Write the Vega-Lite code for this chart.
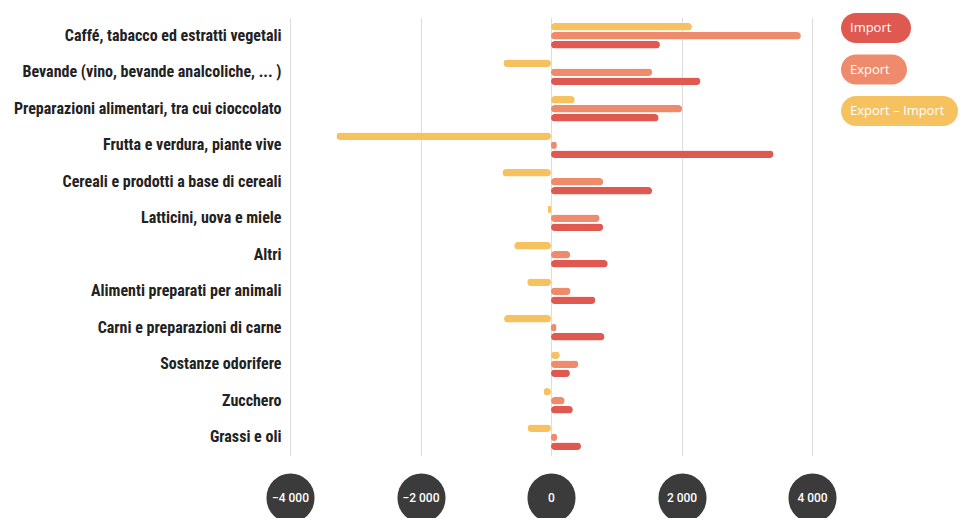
{
  "$schema": "https://vega.github.io/schema/vega-lite/v6.json",
  "width": 522,
  "height": 438,
  "autosize": {"type": "none"},
  "padding": {"left": 290, "top": 17.5, "right": 150, "bottom": 62.5},
  "background": "white",
  "config": {"view": {"stroke": null}},
  "data": {
    "values": [
      {"categoria": "Caffé, tabacco ed estratti vegetali", "serie": "Export – Import", "valore": 2160},
      {"categoria": "Caffé, tabacco ed estratti vegetali", "serie": "Export", "valore": 3830},
      {"categoria": "Caffé, tabacco ed estratti vegetali", "serie": "Import", "valore": 1670},
      {"categoria": "Bevande (vino, bevande analcoliche, ... )", "serie": "Export – Import", "valore": -730},
      {"categoria": "Bevande (vino, bevande analcoliche, ... )", "serie": "Export", "valore": 1550},
      {"categoria": "Bevande (vino, bevande analcoliche, ... )", "serie": "Import", "valore": 2290},
      {"categoria": "Preparazioni alimentari, tra cui cioccolato", "serie": "Export – Import", "valore": 365},
      {"categoria": "Preparazioni alimentari, tra cui cioccolato", "serie": "Export", "valore": 2010},
      {"categoria": "Preparazioni alimentari, tra cui cioccolato", "serie": "Import", "valore": 1650},
      {"categoria": "Frutta e verdura, piante vive", "serie": "Export – Import", "valore": -3290},
      {"categoria": "Frutta e verdura, piante vive", "serie": "Export", "valore": 90},
      {"categoria": "Frutta e verdura, piante vive", "serie": "Import", "valore": 3410},
      {"categoria": "Cereali e prodotti a base di cereali", "serie": "Export – Import", "valore": -745},
      {"categoria": "Cereali e prodotti a base di cereali", "serie": "Export", "valore": 800},
      {"categoria": "Cereali e prodotti a base di cereali", "serie": "Import", "valore": 1550},
      {"categoria": "Latticini, uova e miele", "serie": "Export – Import", "valore": -50},
      {"categoria": "Latticini, uova e miele", "serie": "Export", "valore": 745},
      {"categoria": "Latticini, uova e miele", "serie": "Import", "valore": 800},
      {"categoria": "Altri", "serie": "Export – Import", "valore": -565},
      {"categoria": "Altri", "serie": "Export", "valore": 295},
      {"categoria": "Altri", "serie": "Import", "valore": 870},
      {"categoria": "Alimenti preparati per animali", "serie": "Export – Import", "valore": -365},
      {"categoria": "Alimenti preparati per animali", "serie": "Export", "valore": 300},
      {"categoria": "Alimenti preparati per animali", "serie": "Import", "valore": 680},
      {"categoria": "Carni e preparazioni di carne", "serie": "Export – Import", "valore": -720},
      {"categoria": "Carni e preparazioni di carne", "serie": "Export", "valore": 85},
      {"categoria": "Carni e preparazioni di carne", "serie": "Import", "valore": 820},
      {"categoria": "Sostanze odorifere", "serie": "Export – Import", "valore": 135},
      {"categoria": "Sostanze odorifere", "serie": "Export", "valore": 420},
      {"categoria": "Sostanze odorifere", "serie": "Import", "valore": 290},
      {"categoria": "Zucchero", "serie": "Export – Import", "valore": -115},
      {"categoria": "Zucchero", "serie": "Export", "valore": 210},
      {"categoria": "Zucchero", "serie": "Import", "valore": 335},
      {"categoria": "Grassi e oli", "serie": "Export – Import", "valore": -360},
      {"categoria": "Grassi e oli", "serie": "Export", "valore": 95},
      {"categoria": "Grassi e oli", "serie": "Import", "valore": 460}
    ]
  },
  "mark": {"type": "bar", "cornerRadius": 4},
  "encoding": {
    "y": {
      "field": "categoria",
      "type": "nominal",
      "sort": null,
      "scale": {"paddingInner": 0.3, "paddingOuter": 0.15},
      "axis": {
        "title": null,
        "domain": false,
        "ticks": false,
        "grid": false,
        "labelPadding": 9,
        "labelFont": "Liberation Sans Narrow, Roboto Condensed, Liberation Sans",
        "labelFontSize": 16,
        "labelFontWeight": "bold",
        "labelColor": "#222222",
        "labelLimit": 400
      }
    },
    "yOffset": {
      "field": "serie",
      "type": "nominal",
      "sort": ["Export – Import", "Export", "Import"],
      "scale": {"paddingInner": 0.16}
    },
    "x": {
      "field": "valore",
      "type": "quantitative",
      "scale": {"domain": [-4000, 4000], "nice": false},
      "axis": {
        "title": null,
        "values": [-4000, -2000, 0, 2000, 4000],
        "domain": false,
        "grid": true,
        "gridColor": "#dcdce2",
        "gridWidth": 1,
        "ticks": true,
        "tickSize": 1,
        "tickWidth": 48,
        "tickCap": "round",
        "tickColor": "#3b3b3b",
        "offset": 41.5,
        "labelPadding": -1,
        "labelBaseline": "middle",
        "labelColor": "white",
        "labelFont": "Roboto",
        "labelFontSize": 12,
        "labelFontWeight": 500,
        "labelOverlap": false,
        "labelFlush": false,
        "labelExpr": "replace(datum.label, ',', ' ')"
      }
    },
    "color": {
      "field": "serie",
      "type": "nominal",
      "scale": {
        "domain": ["Import", "Export", "Export – Import"],
        "range": ["#DF5950", "#EE8B6C", "#F6C25F"]
      },
      "legend": {
        "title": null,
        "orient": "none",
        "legendX": 551,
        "legendY": -4.5,
        "padding": 0,
        "symbolSize": 900,
        "symbolType": "M0,-1H2.67A1,1 0 0 1 2.67,1H0A1,1 0 0 1 0,-1Z",
        "symbolStrokeWidth": 0,
        "symbolOpacity": 1,
        "labelOffset": -21,
        "labelColor": "white",
        "labelFont": "Open Sans",
        "labelFontSize": 13,
        "labelLimit": 200,
        "rowPadding": 11.5,
        "encode": {
          "symbols": {
            "update": {
              "shape": {"signal": "datum.label === 'Import' ? 'M0,-1H2.67A1,1 0 0 1 2.67,1H0A1,1 0 0 1 0,-1Z' : datum.label === 'Export' ? 'M0,-1H2.4A1,1 0 0 1 2.4,1H0A1,1 0 0 1 0,-1Z' : 'M0,-1H5.8A1,1 0 0 1 5.8,1H0A1,1 0 0 1 0,-1Z'"}
            }
          }
        }
      }
    }
  }
}
